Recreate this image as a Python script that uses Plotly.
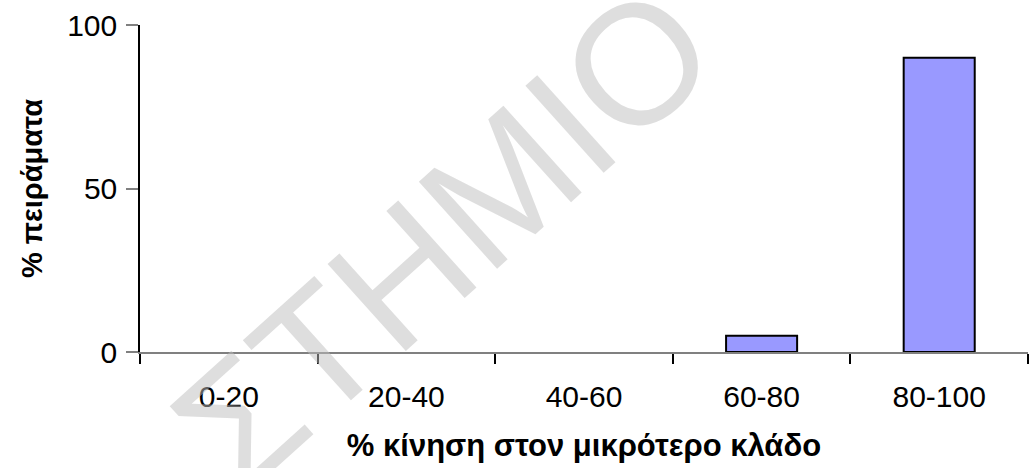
import plotly.graph_objects as go

# Histogram of experiments by share of movement into the smaller branch
categories = ["0-20", "20-40", "40-60", "60-80", "80-100"]
percent_experiments = [0, 0, 0, 5, 90]
y_ticks = [0, 50, 100]

x_title = "% κίνηση στον μικρότερο κλάδο"
y_title = "% πειράματα"
watermark = "ΣΤΗΜΙΟ"

FONT = "Liberation Sans, Arial, sans-serif"

# empty bins get no outline so nothing is drawn on the baseline
outline_widths = [2 if v > 0 else 0 for v in percent_experiments]

fig = go.Figure(
    go.Bar(
        x=categories,
        y=percent_experiments,
        width=0.4,
        marker=dict(color="#9999FF", line=dict(color="black", width=outline_widths)),
        showlegend=False,
    )
)

fig.update_layout(
    width=1029,
    height=468,
    margin=dict(l=140, r=1, t=25, b=116, autoexpand=False),
    paper_bgcolor="white",
    plot_bgcolor="white",
    font=dict(family=FONT, color="black"),
    xaxis=dict(
        type="category",
        range=[-0.5, 4.5],
        showline=True,
        linecolor="#808080",
        linewidth=1.5,
        ticks="outside",
        tickson="boundaries",
        ticklen=10,
        tickcolor="black",
        tickwidth=1.5,
        tickfont=dict(size=30, family=FONT),
        ticklabelstandoff=17,
        showgrid=False,
        zeroline=False,
        title=dict(text=f"<b>{x_title}</b>", font=dict(size=31, family=FONT), standoff=23),
        automargin=False,
    ),
    yaxis=dict(
        range=[0, 100],
        tickvals=y_ticks,
        showline=True,
        linecolor="black",
        linewidth=1.5,
        ticks="outside",
        ticklen=12,
        tickcolor="#808080",
        tickwidth=1.5,
        tickfont=dict(size=30, family=FONT),
        ticklabelstandoff=3,
        showgrid=False,
        zeroline=False,
        title=dict(text=f"<b>{y_title}</b>", font=dict(size=29, family=FONT), standoff=16),
        automargin=False,
    ),
    bargap=0.6,
)

# Diagonal watermark lettering over the chart
fig.add_annotation(
    text=watermark,
    xref="paper",
    yref="paper",
    x=(443 - 140) / 888,
    y=1 - (238 - 25) / 327,
    xanchor="center",
    yanchor="middle",
    showarrow=False,
    textangle=-42,
    font=dict(size=170, family=FONT, color="rgba(190,190,190,0.5)"),
)

fig.write_html("out.html")
